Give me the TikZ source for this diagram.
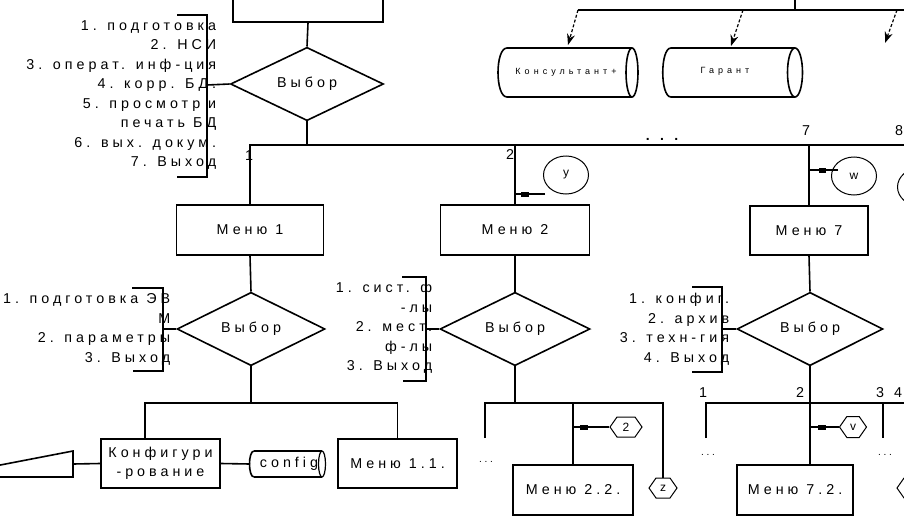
\documentclass[tikz,border=0pt]{standalone}
\usepackage{fontspec}
\setmainfont{Liberation Sans}
\newfontfamily\spfont[LetterSpace=28]{Liberation Sans}
\newfontfamily\tnfont[LetterSpace=45]{Liberation Sans}
\newcommand\mtxt{\spfont\fontsize{14.3}{19.5}\selectfont}
\newcommand\ttxt{\tnfont\fontsize{9}{11}\selectfont}
\newcommand\ctxt{\spfont\fontsize{12}{14}\selectfont}
\newcommand\dtxt{\spfont\fontsize{10}{12}\selectfont}
\usetikzlibrary{shapes.geometric,shapes.symbols,arrows.meta}
\begin{document}
\begin{tikzpicture}[x=1pt,y=-1pt,line width=1.6pt,
  box/.style={draw, rectangle, inner sep=0pt, font=\mtxt, align=center},
  dia/.style={draw, diamond, inner sep=0pt, font=\mtxt},
  lst/.style={anchor=east, align=right, inner sep=0pt, font=\mtxt},
  num/.style={font=\mtxt, inner sep=0pt},
  dots/.style={font=\dtxt, inner sep=0pt, anchor=base},
  circ/.style={draw, ellipse, inner sep=0pt, minimum width=45pt, minimum height=38pt, font=\ctxt, line width=1pt},
  hexa/.style={draw, signal, signal to=east and west, signal pointer angle=110, inner sep=0pt, font=\ctxt, line width=1pt},
  darr/.style={line width=1.2pt, dash pattern=on 3pt off 2pt, -{Stealth[length=11pt,width=8pt]}},
  thin/.style={line width=1.2pt}
]
\useasboundingbox (0,0) rectangle (904,519);
\begin{scope}
\clip (0,0) rectangle (904,519);

% ---- top level
\node[box, minimum width=150pt, minimum height=44pt] (top) at (308,0) {};
\node[dia, minimum width=153pt, minimum height=72pt] (d0) at (307,84) {Выбор};
\draw (top.south) -- (d0.north);
\draw (177,15) -- (207,15) -- (207,177) -- (177,177);
\coordinate (br0) at (207,85);
\draw (br0) -- (d0.west);
\node[lst] (l0) at (217,95) {1. подготовка\\2. НСИ\\3. операт. инф-ция\\4. корр. БД.\\5. просмотр и\\печать БД\\6. вых. докум.\\7. Выход};
\coordinate (bus0) at (307,145);
\draw (d0.south) -- (bus0);

% ---- menus
\node[box, minimum width=147pt, minimum height=50pt] (m1) at (250,230) {Меню 1};
\node[box, minimum width=149pt, minimum height=50pt] (m2) at (515,230) {Меню 2};
\node[box, minimum width=118pt, minimum height=49pt] (m7) at (809,230.5) {Меню 7};
\draw (m1.north) -- (m1.north |- bus0) -- (910,145);
\draw (m2.north) -- (m2.north |- bus0);
\draw (m7.north) -- (m7.north |- bus0);
\node[num] (n1) at (249,156) {1};
\node[num] (n2) at (510,155) {2};
\node[num] (n7) at (806,131) {7};
\node[num] (n8) at (899,131) {8};
\node[font=\spfont\fontsize{14}{16}\selectfont\bfseries, inner sep=0pt, anchor=base] (dots0) at (662,140) {. . .};

% ---- connectors y, w
\node[circ] (cy) at (566,175) {y};
\coordinate (ya) at (545,194);
\draw[thin] (ya) -- (m2.north |- ya);
\fill (521,191.5) rectangle (529,196.5);
\node[circ] (cw) at (854,176) {w};
\coordinate (wa) at (838,170);
\draw[thin] (wa) -- (m7.north |- wa);
\fill (819,167.5) rectangle (826,172.5);
\node[circ] (cp) at (920,187) {};

% ---- second-level choices
\node[dia, minimum width=148pt, minimum height=72pt] (d1) at (251,329) {Выбор};
\node[dia, minimum width=150pt, minimum height=72pt] (d2) at (515,329) {Выбор};
\node[dia, minimum width=146pt, minimum height=72pt] (d7) at (810,329) {Выбор};
\draw (m1.south) -- (d1.north);
\draw (m2.south) -- (d2.north);
\draw (m7.south) -- (d7.north);

\draw (132,288) -- (163,288) -- (163,371) -- (133,371);
\coordinate (br1) at (163,329);
\draw (br1) -- (d1.west);
\node[lst] (l1) at (171,329.5) {1. подготовка ЭВ\\М\\2. параметры\\3. Выход};

\draw (402,277) -- (426,277) -- (426,381) -- (403,381);
\coordinate (br2) at (426,329);
\draw (br2) -- (d2.west);
\node[lst] (l2) at (433,328) {1. сист. ф\\-лы\\2. мест.\\ф-лы\\3. Выход};

\draw (692,287) -- (722,287) -- (722,372) -- (692,372);
\coordinate (br7) at (722,329);
\draw (br7) -- (d7.west);
\node[lst] (l7) at (730,329) {1. конфиг.\\2. архив\\3. техн-гия\\4. Выход};

% ---- third level, left
\coordinate (bus1) at (251,403);
\draw (d1.south) -- (bus1);
\node[box, minimum width=119pt, minimum height=49pt] (k) at (160.5,463.5) {Конфигури\\-рование};
\node[box, minimum width=119pt, minimum height=49pt] (m11) at (397.5,463.5) {Меню 1.1.};
\draw (145,439) -- (145,403) -- (m11.north |- bus1) -- (m11.north);
\draw (-10,467) -- (73,451) -- (73,477) -- (-10,477);
\coordinate (mi) at (73,464);
\draw (mi) -- (k.west);
\draw (254,451) -- (322,451);
\draw (254,477) -- (322,477);
\draw (254,451) .. controls (248,451) and (248,477) .. (254,477);
\draw[line width=1.2pt] (322,464) ellipse [x radius=3.5pt, y radius=13pt];
\node[font=\mtxt, inner sep=0pt] (cfg) at (289,464) {config};
\draw (k.east) -- (250,464);

% ---- third level, middle
\coordinate (bus2) at (515,403);
\draw (d2.south) -- (bus2);
\node[hexa, minimum width=28pt, minimum height=20pt] (z) at (663,488) {z};
\node[box, minimum width=120pt, minimum height=50pt] (m22) at (573,490) {Меню 2.2.};
\draw (485,438) -- (485,403) -- (663,403) -- (z.north);
\draw (m22.north |- bus2) -- (m22.north);
\node[hexa, minimum width=32pt, minimum height=20pt] (h2) at (626,427) {2};
\draw[thin] (h2.west) -- (m22.north |- h2.west);
\fill (580,424.5) rectangle (588,429.5);
\node[dots] (dt1) at (486,462) {...};

% ---- third level, right
\coordinate (bus7) at (810,403);
\draw (d7.south) -- (bus7);
\draw (706,438) -- (706,403) -- (910,403);
\draw (883,403) -- (883,438);
\node[box, minimum width=116pt, minimum height=50pt] (m72) at (795,490) {Меню 7.2.};
\draw (bus7) -- (bus7 |- m72.north);
\node[hexa, minimum width=27pt, minimum height=21pt] (hv) at (853,427) {v};
\draw[thin] (hv.west) -- (bus7 |- hv.west);
\fill (818,424.5) rectangle (826,429.5);
\node[dots] (dt2) at (708,455) {...};
\node[dots] (dt3) at (885,455) {...};
\node[hexa, minimum width=28pt, minimum height=20pt] (hp) at (911,488) {};
\node[num] (k1) at (703,393) {1};
\node[num] (k2) at (800,393) {2};
\node[num] (k3) at (880,393) {3};
\node[num] (k4) at (898,393) {4};

% ---- top right: databases
\draw (578,10) -- (910,10);
\draw (795,-5) -- (795,10);
\draw (507,48) -- (632,48);
\draw (507,97) -- (632,97);
\draw (507,48) .. controls (495,48) and (495,97) .. (507,97);
\draw (632,72.5) ellipse [x radius=6pt, y radius=24.5pt];
\node[font=\ttxt, inner sep=0pt] (cons) at (566,72) {Консультант+};
\draw (671,48) -- (795,48);
\draw (671,97) -- (795,97);
\draw (671,48) .. controls (660,48) and (660,97) .. (671,97);
\draw (795,72.5) ellipse [x radius=7.5pt, y radius=24.5pt];
\node[font=\ttxt, inner sep=0pt] (gar) at (725,71) {Гарант};
\coordinate (t1) at (578,10);
\coordinate (t2) at (743,10);
\coordinate (t3) at (897,10);
\draw[darr] (t1) -- (568,45);
\draw[darr] (t2) -- (731,46);
\draw[darr] (t3) -- (885,43);
\end{scope}
\end{tikzpicture}
\end{document}
